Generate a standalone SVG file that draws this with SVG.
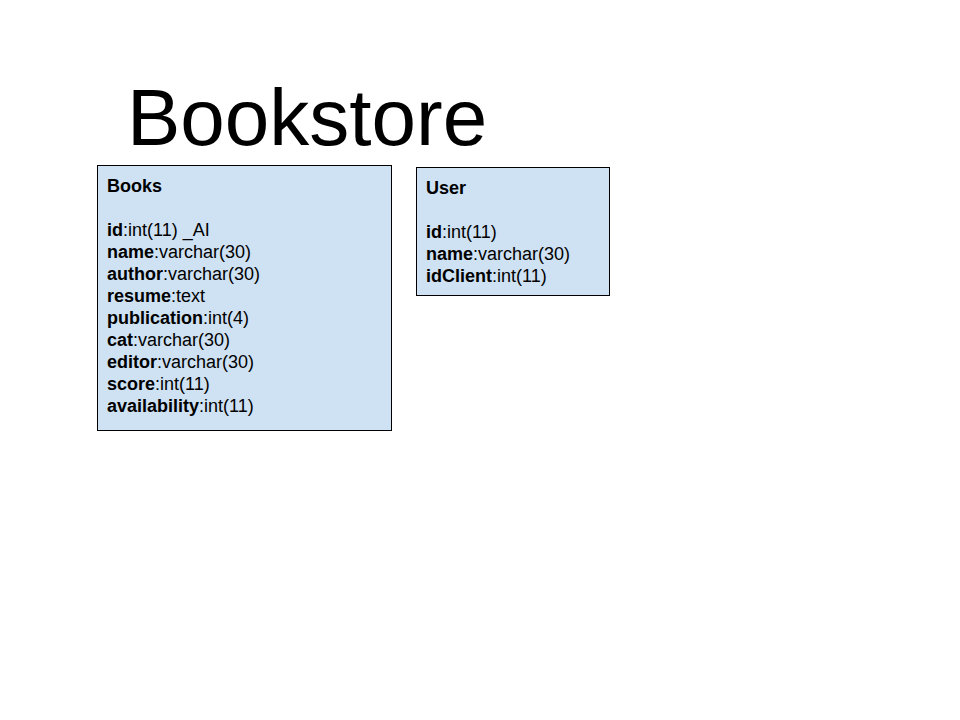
<svg xmlns="http://www.w3.org/2000/svg" width="960" height="720" viewBox="0 0 960 720">
<style>
.box{fill:#cfe2f3;stroke:#000;stroke-width:1}
.t{font-family:"Liberation Sans",Arial,sans-serif;font-size:18px;fill:#000}
.b{font-weight:bold}
.title{font-family:"Liberation Sans",Arial,sans-serif;font-size:80px;fill:#000}
</style>
<rect width="960" height="720" fill="#fff"/>
<text class="title" x="127" y="145">Bookstore</text>
<g id="books">
<rect class="box" x="97.5" y="165.5" width="294" height="265"/>
<text class="t" x="107" y="192"><tspan class="b">Books</tspan></text>
<text class="t" x="107" y="236"><tspan class="b">id</tspan>:int(11) _AI</text>
<text class="t" x="107" y="258"><tspan class="b">name</tspan>:varchar(30)</text>
<text class="t" x="107" y="280"><tspan class="b">author</tspan>:varchar(30)</text>
<text class="t" x="107" y="302"><tspan class="b">resume</tspan>:text</text>
<text class="t" x="107" y="324"><tspan class="b">publication</tspan>:int(4)</text>
<text class="t" x="107" y="346"><tspan class="b">cat</tspan>:varchar(30)</text>
<text class="t" x="107" y="368"><tspan class="b">editor</tspan>:varchar(30)</text>
<text class="t" x="107" y="390"><tspan class="b">score</tspan>:int(11)</text>
<text class="t" x="107" y="412"><tspan class="b">availability</tspan>:int(11)</text>
</g>
<g id="user">
<rect class="box" x="416.5" y="167.5" width="193" height="128"/>
<text class="t" x="426" y="194"><tspan class="b">User</tspan></text>
<text class="t" x="426" y="238"><tspan class="b">id</tspan>:int(11)</text>
<text class="t" x="426" y="260"><tspan class="b">name</tspan>:varchar(30)</text>
<text class="t" x="426" y="282"><tspan class="b">idClient</tspan>:int(11)</text>
</g>
<g id="connectors"></g>
</svg>
